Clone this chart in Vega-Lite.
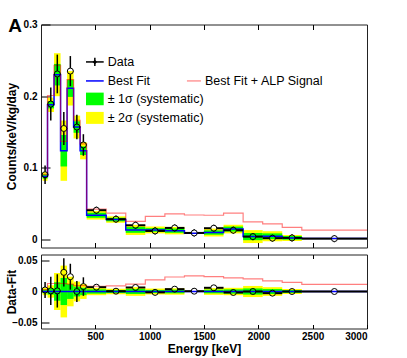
{
  "$schema": "https://vega.github.io/schema/vega-lite/v6.json",
  "padding": {"left": 4, "top": 15.5, "right": 5, "bottom": 5},
  "spacing": 5,
  "config": {
    "font": "Liberation Sans",
    "view": {"stroke": "#222", "strokeWidth": 1},
    "axis": {
      "labelFont": "Liberation Sans", "labelFontWeight": "bold", "labelFontSize": 10, "labelColor": "#000",
      "titleFont": "Liberation Sans", "titleFontWeight": "bold", "titleFontSize": 12, "titleColor": "#000",
      "tickColor": "#000", "grid": false, "domain": false
    }
  },
  "datasets": {
    "bins": [
      {"lo": 15, "hi": 60, "c": 37.5, "d": 0.0905, "dlo": 0.0775, "dhi": 0.1035, "f": 0.088, "y1lo": 0.085, "y1hi": 0.091, "y2lo": 0.082, "y2hi": 0.094, "r": 0.0025, "rlo": -0.0105, "rhi": 0.0155, "s1": 0.003, "m1": -0.003, "s2": 0.006, "m2": -0.006},
      {"lo": 60, "hi": 120, "c": 90, "d": 0.189, "dlo": 0.166, "dhi": 0.212, "f": 0.188, "y1lo": 0.183, "y1hi": 0.193, "y2lo": 0.178, "y2hi": 0.198, "r": 0.001, "rlo": -0.022, "rhi": 0.024, "s1": 0.005, "m1": -0.005, "s2": 0.01, "m2": -0.01},
      {"lo": 120, "hi": 180, "c": 150, "d": 0.231, "dlo": 0.204, "dhi": 0.258, "f": 0.23, "y1lo": 0.215, "y1hi": 0.245, "y2lo": 0.2, "y2hi": 0.26, "r": 0.001, "rlo": -0.026, "rhi": 0.028, "s1": 0.015, "m1": -0.015, "s2": 0.03, "m2": -0.03},
      {"lo": 180, "hi": 240, "c": 210, "d": 0.155, "dlo": 0.132, "dhi": 0.178, "f": 0.124, "y1lo": 0.102, "y1hi": 0.146, "y2lo": 0.082, "y2hi": 0.166, "r": 0.031, "rlo": 0.008, "rhi": 0.054, "s1": 0.022, "m1": -0.022, "s2": 0.042, "m2": -0.042},
      {"lo": 240, "hi": 300, "c": 270, "d": 0.235, "dlo": 0.214, "dhi": 0.256, "f": 0.211, "y1lo": 0.199, "y1hi": 0.223, "y2lo": 0.187, "y2hi": 0.235, "r": 0.024, "rlo": 0.003, "rhi": 0.045, "s1": 0.012, "m1": -0.012, "s2": 0.024, "m2": -0.024},
      {"lo": 300, "hi": 360, "c": 330, "d": 0.157, "dlo": 0.14, "dhi": 0.174, "f": 0.157, "y1lo": 0.149, "y1hi": 0.165, "y2lo": 0.141, "y2hi": 0.173, "r": 0.0, "rlo": -0.017, "rhi": 0.017, "s1": 0.008, "m1": -0.008, "s2": 0.016, "m2": -0.016},
      {"lo": 360, "hi": 420, "c": 390, "d": 0.132, "dlo": 0.117, "dhi": 0.147, "f": 0.124, "y1lo": 0.118, "y1hi": 0.13, "y2lo": 0.112, "y2hi": 0.136, "r": 0.008, "rlo": -0.007, "rhi": 0.023, "s1": 0.006, "m1": -0.006, "s2": 0.012, "m2": -0.012},
      {"lo": 420, "hi": 600, "c": 510, "d": 0.041, "dlo": 0.036, "dhi": 0.046, "f": 0.034, "y1lo": 0.0305, "y1hi": 0.0375, "y2lo": 0.028, "y2hi": 0.04, "r": 0.007, "rlo": 0.002, "rhi": 0.012, "s1": 0.0035, "m1": -0.0035, "s2": 0.006, "m2": -0.006},
      {"lo": 600, "hi": 780, "c": 690, "d": 0.0285, "dlo": 0.0235, "dhi": 0.0335, "f": 0.028, "y1lo": 0.0255, "y1hi": 0.0305, "y2lo": 0.0235, "y2hi": 0.0325, "r": 0.0005, "rlo": -0.0045, "rhi": 0.0055, "s1": 0.0025, "m1": -0.0025, "s2": 0.0045, "m2": -0.0045},
      {"lo": 780, "hi": 960, "c": 870, "d": 0.02, "dlo": 0.015, "dhi": 0.025, "f": 0.0135, "y1lo": 0.0095, "y1hi": 0.0175, "y2lo": 0.0065, "y2hi": 0.0205, "r": 0.0065, "rlo": 0.0015, "rhi": 0.0115, "s1": 0.004, "m1": -0.004, "s2": 0.007, "m2": -0.007},
      {"lo": 960, "hi": 1140, "c": 1050, "d": 0.0121, "dlo": 0.0071, "dhi": 0.0171, "f": 0.0135, "y1lo": 0.011, "y1hi": 0.016, "y2lo": 0.0087, "y2hi": 0.0183, "r": -0.0014, "rlo": -0.0064, "rhi": 0.0036, "s1": 0.0025, "m1": -0.0025, "s2": 0.0048, "m2": -0.0048},
      {"lo": 1140, "hi": 1320, "c": 1230, "d": 0.0163, "dlo": 0.0113, "dhi": 0.0213, "f": 0.0125, "y1lo": 0.0095, "y1hi": 0.0155, "y2lo": 0.0073, "y2hi": 0.0177, "r": 0.0038, "rlo": -0.0012, "rhi": 0.0088, "s1": 0.003, "m1": -0.003, "s2": 0.0052, "m2": -0.0052},
      {"lo": 1320, "hi": 1500, "c": 1410, "d": 0.0093, "dlo": 0.0043, "dhi": 0.0143, "f": 0.0088, "y1lo": 0.0084, "y1hi": 0.0092, "y2lo": 0.008, "y2hi": 0.0096, "r": 0.0005, "rlo": -0.0045, "rhi": 0.0055, "s1": 0.0004, "m1": -0.0004, "s2": 0.0008, "m2": -0.0008},
      {"lo": 1500, "hi": 1680, "c": 1590, "d": 0.0159, "dlo": 0.0109, "dhi": 0.0209, "f": 0.0099, "y1lo": 0.0069, "y1hi": 0.0129, "y2lo": 0.0044, "y2hi": 0.0154, "r": 0.006, "rlo": 0.001, "rhi": 0.011, "s1": 0.003, "m1": -0.003, "s2": 0.0055, "m2": -0.0055},
      {"lo": 1680, "hi": 1860, "c": 1770, "d": 0.0131, "dlo": 0.0081, "dhi": 0.0181, "f": 0.0147, "y1lo": 0.0112, "y1hi": 0.0182, "y2lo": 0.0087, "y2hi": 0.0207, "r": -0.0016, "rlo": -0.0066, "rhi": 0.0034, "s1": 0.0035, "m1": -0.0035, "s2": 0.006, "m2": -0.006},
      {"lo": 1860, "hi": 2040, "c": 1950, "d": 0.0042, "dlo": -0.0008, "dhi": 0.0092, "f": 0.0042, "y1lo": -0.0008, "y1hi": 0.0092, "y2lo": -0.0048, "y2hi": 0.0132, "r": 0.0, "rlo": -0.005, "rhi": 0.005, "s1": 0.005, "m1": -0.005, "s2": 0.009, "m2": -0.009},
      {"lo": 2040, "hi": 2220, "c": 2130, "d": 0.002, "dlo": -0.003, "dhi": 0.007, "f": 0.0047, "y1lo": 0.0007, "y1hi": 0.0087, "y2lo": -0.0023, "y2hi": 0.0117, "r": -0.0027, "rlo": -0.0077, "rhi": 0.0023, "s1": 0.004, "m1": -0.004, "s2": 0.007, "m2": -0.007},
      {"lo": 2220, "hi": 2400, "c": 2310, "d": 0.0024, "dlo": -0.0026, "dhi": 0.0074, "f": 0.0024, "y1lo": -0.0001, "y1hi": 0.0049, "y2lo": -0.0018, "y2hi": 0.0066, "r": 0.0, "rlo": -0.005, "rhi": 0.005, "s1": 0.0025, "m1": -0.0025, "s2": 0.0042, "m2": -0.0042},
      {"lo": 2400, "hi": 3000, "c": 2700, "d": 0.0014, "dlo": -0.0036, "dhi": 0.0064, "f": 0.0014, "y1lo": 0.0009, "y1hi": 0.0019, "y2lo": 0.0005, "y2hi": 0.0023, "r": 0.0, "rlo": -0.005, "rhi": 0.005, "s1": 0.0005, "m1": -0.0005, "s2": 0.0009, "m2": -0.0009}
    ],
    "edges": [
      {"x": 15, "f": 0.088, "fa": 0.091, "a": 0.003},
      {"x": 60, "f": 0.188, "fa": 0.201, "a": 0.013},
      {"x": 120, "f": 0.23, "fa": 0.243, "a": 0.013},
      {"x": 180, "f": 0.124, "fa": 0.137, "a": 0.013},
      {"x": 240, "f": 0.211, "fa": 0.223, "a": 0.012},
      {"x": 300, "f": 0.157, "fa": 0.1665, "a": 0.0095},
      {"x": 360, "f": 0.124, "fa": 0.1335, "a": 0.0095},
      {"x": 420, "f": 0.034, "fa": 0.0425, "a": 0.0085},
      {"x": 600, "f": 0.028, "fa": 0.037, "a": 0.009},
      {"x": 780, "f": 0.0135, "fa": 0.0255, "a": 0.012},
      {"x": 960, "f": 0.0135, "fa": 0.0325, "a": 0.019},
      {"x": 1140, "f": 0.0125, "fa": 0.036, "a": 0.0235},
      {"x": 1320, "f": 0.0088, "fa": 0.0343, "a": 0.0255},
      {"x": 1500, "f": 0.0099, "fa": 0.034, "a": 0.024},
      {"x": 1680, "f": 0.0147, "fa": 0.0369, "a": 0.0222},
      {"x": 1860, "f": 0.0042, "fa": 0.0247, "a": 0.0205},
      {"x": 2040, "f": 0.0047, "fa": 0.0219, "a": 0.0172},
      {"x": 2220, "f": 0.0024, "fa": 0.0172, "a": 0.0148},
      {"x": 2400, "f": 0.0014, "fa": 0.0131, "a": 0.0117},
      {"x": 3000, "f": 0.0014, "fa": 0.0131, "a": 0.0117}
    ]
  },
  "vconcat": [
    {
      "width": 326,
      "height": 223,
      "resolve": {"axis": {"x": "independent", "y": "independent"}},
      "layer": [
        {
          "data": {"name": "bins"},
          "mark": {"type": "rect", "color": "#ffff00"},
          "encoding": {
            "x": {"field": "lo", "type": "quantitative", "scale": {"domain": [0, 3000], "nice": false, "zero": false},
                  "axis": {"orient": "bottom", "values": [500, 1000, 1500, 2000, 2500], "labels": false, "tickSize": -5, "title": null}},
            "x2": {"field": "hi"},
            "y": {"field": "y2lo", "type": "quantitative", "scale": {"domain": [-0.011, 0.3], "nice": false, "zero": false},
                  "axis": {"orient": "left", "values": [0, 0.1, 0.2, 0.3], "format": "~g", "tickSize": -9, "labelPadding": 13, "title": "Counts/keV/kg/day", "titleX": -30, "titleBaseline": "middle", "titleAlign": "center"}},
            "y2": {"field": "y2hi"}
          }
        },
        {
          "data": {"name": "bins"},
          "mark": {"type": "rect", "color": "#00ff00"},
          "encoding": {
            "x": {"field": "lo", "type": "quantitative", "axis": {"orient": "top", "values": [500, 1000, 1500, 2000, 2500], "labels": false, "tickSize": -5, "title": null}},
            "x2": {"field": "hi"},
            "y": {"field": "y1lo", "type": "quantitative", "axis": null},
            "y2": {"field": "y1hi"}
          }
        },
        {
          "data": {"name": "edges"},
          "mark": {"type": "line", "interpolate": "step-after", "color": "#0000ff", "strokeWidth": 1.5},
          "encoding": {
            "x": {"field": "x", "type": "quantitative", "axis": null},
            "y": {"field": "f", "type": "quantitative", "axis": null}
          }
        },
        {
          "data": {"name": "edges"},
          "mark": {"type": "line", "interpolate": "step-after", "color": "#ff0000", "opacity": 0.5, "strokeWidth": 1.2},
          "encoding": {
            "x": {"field": "x", "type": "quantitative", "axis": null},
            "y": {"field": "fa", "type": "quantitative", "axis": null}
          }
        },
        {
          "data": {"name": "bins"},
          "mark": {"type": "rule", "color": "#000", "strokeWidth": 2, "x2Offset": -3},
          "encoding": {
            "x": {"field": "lo", "type": "quantitative", "axis": null},
            "x2": {"field": "c"},
            "y": {"field": "d", "type": "quantitative", "axis": null}
          }
        },
        {
          "data": {"name": "bins"},
          "mark": {"type": "rule", "color": "#000", "strokeWidth": 2, "xOffset": 3},
          "encoding": {
            "x": {"field": "c", "type": "quantitative", "axis": null},
            "x2": {"field": "hi"},
            "y": {"field": "d", "type": "quantitative", "axis": null}
          }
        },
        {
          "data": {"name": "bins"},
          "mark": {"type": "rule", "color": "#000", "strokeWidth": 1.5, "y2Offset": 3},
          "encoding": {
            "x": {"field": "c", "type": "quantitative", "axis": null},
            "y": {"field": "dlo", "type": "quantitative", "axis": null},
            "y2": {"field": "d"}
          }
        },
        {
          "data": {"name": "bins"},
          "mark": {"type": "rule", "color": "#000", "strokeWidth": 1.5, "yOffset": -3},
          "encoding": {
            "x": {"field": "c", "type": "quantitative", "axis": null},
            "y": {"field": "d", "type": "quantitative", "axis": null},
            "y2": {"field": "dhi"}
          }
        },
        {
          "data": {"name": "bins"},
          "mark": {"type": "point", "shape": "circle", "filled": false, "stroke": "#000", "strokeWidth": 1, "size": 36, "opacity": 1},
          "encoding": {
            "x": {"field": "c", "type": "quantitative", "axis": null},
            "y": {"field": "d", "type": "quantitative", "axis": null}
          }
        },
        {
          "data": {"values": [{"x": 414, "x2": 577, "y": 0.2478}]},
          "mark": {"type": "rule", "color": "#000", "strokeWidth": 1.5},
          "encoding": {
            "x": {"field": "x", "type": "quantitative", "axis": null},
            "x2": {"field": "x2"},
            "y": {"field": "y", "type": "quantitative", "axis": null}
          }
        },
        {
          "data": {"values": [{"x": 495.5, "y": 0.2421, "y2": 0.2535}]},
          "mark": {"type": "rule", "color": "#000", "strokeWidth": 1.5},
          "encoding": {
            "x": {"field": "x", "type": "quantitative", "axis": null},
            "y": {"field": "y", "type": "quantitative", "axis": null},
            "y2": {"field": "y2"}
          }
        },
        {
          "data": {"values": [{"x": 495.5, "y": 0.2478}]},
          "mark": {"type": "point", "shape": "diamond", "filled": true, "color": "#000", "size": 20, "opacity": 1},
          "encoding": {
            "x": {"field": "x", "type": "quantitative", "axis": null},
            "y": {"field": "y", "type": "quantitative", "axis": null}
          }
        },
        {
          "data": {"values": [{"x": 414, "x2": 577, "y": 0.2213}]},
          "mark": {"type": "rule", "color": "#0000ff", "strokeWidth": 1.5},
          "encoding": {
            "x": {"field": "x", "type": "quantitative", "axis": null},
            "x2": {"field": "x2"},
            "y": {"field": "y", "type": "quantitative", "axis": null}
          }
        },
        {
          "data": {"values": [{"x": 1343, "x2": 1472, "y": 0.2213}]},
          "mark": {"type": "rule", "color": "#ff0000", "opacity": 0.5, "strokeWidth": 1.2},
          "encoding": {
            "x": {"field": "x", "type": "quantitative", "axis": null},
            "x2": {"field": "x2"},
            "y": {"field": "y", "type": "quantitative", "axis": null}
          }
        },
        {
          "data": {"values": [{"x": 414, "x2": 577, "y": 0.1874, "y2": 0.205}]},
          "mark": {"type": "rect", "color": "#00ff00"},
          "encoding": {
            "x": {"field": "x", "type": "quantitative", "axis": null},
            "x2": {"field": "x2"},
            "y": {"field": "y", "type": "quantitative", "axis": null},
            "y2": {"field": "y2"}
          }
        },
        {
          "data": {"values": [{"x": 414, "x2": 577, "y": 0.1614, "y2": 0.1781}]},
          "mark": {"type": "rect", "color": "#ffff00"},
          "encoding": {
            "x": {"field": "x", "type": "quantitative", "axis": null},
            "x2": {"field": "x2"},
            "y": {"field": "y", "type": "quantitative", "axis": null},
            "y2": {"field": "y2"}
          }
        },
        {
          "data": {"values": [
            {"x": 614, "y": 0.2478, "t": "Data"},
            {"x": 614, "y": 0.2213, "t": "Best Fit"},
            {"x": 1509, "y": 0.2213, "t": "Best Fit + ALP Signal"},
            {"x": 614, "y": 0.1962, "t": "± 1σ (systematic)"},
            {"x": 614, "y": 0.1697, "t": "± 2σ (systematic)"}
          ]},
          "mark": {"type": "text", "align": "left", "baseline": "middle", "fontSize": 12.5, "font": "Liberation Sans", "color": "#000"},
          "encoding": {
            "x": {"field": "x", "type": "quantitative", "axis": null},
            "y": {"field": "y", "type": "quantitative", "axis": null},
            "text": {"field": "t"}
          }
        },
        {
          "data": {"values": [{"x": -301, "y": 0.2897, "t": "A"}]},
          "mark": {"type": "text", "align": "left", "baseline": "alphabetic", "fontSize": 19, "fontWeight": "bold", "font": "Liberation Sans", "color": "#000"},
          "encoding": {
            "x": {"field": "x", "type": "quantitative", "axis": null},
            "y": {"field": "y", "type": "quantitative", "axis": null},
            "text": {"field": "t"}
          }
        }
      ]
    },
    {
      "width": 326,
      "height": 74,
      "resolve": {"axis": {"x": "independent", "y": "independent"}},
      "layer": [
        {
          "data": {"name": "bins"},
          "mark": {"type": "rect", "color": "#ffff00"},
          "encoding": {
            "x": {"field": "lo", "type": "quantitative", "scale": {"domain": [0, 3000], "nice": false, "zero": false},
                  "axis": {"orient": "bottom", "values": [500, 1000, 1500, 2000, 2500, 3000], "format": "d", "tickSize": -4, "labelPadding": 7, "title": "Energy [keV]", "titlePadding": 2}},
            "x2": {"field": "hi"},
            "y": {"field": "m2", "type": "quantitative", "scale": {"domain": [-0.06, 0.06], "nice": false, "zero": false},
                  "axis": {"orient": "left", "values": [-0.05, 0, 0.05], "format": "~g", "tickSize": -8, "labelPadding": 12, "title": "Data-Fit", "titleX": -30, "titleBaseline": "middle", "titleAlign": "center"}},
            "y2": {"field": "s2"}
          }
        },
        {
          "data": {"name": "bins"},
          "mark": {"type": "rect", "color": "#00ff00"},
          "encoding": {
            "x": {"field": "lo", "type": "quantitative", "axis": {"orient": "top", "values": [500, 1000, 1500, 2000, 2500], "labels": false, "tickSize": -4, "title": null}},
            "x2": {"field": "hi"},
            "y": {"field": "m1", "type": "quantitative", "axis": null},
            "y2": {"field": "s1"}
          }
        },
        {
          "data": {"values": [{}]},
          "mark": {"type": "rule", "color": "#0000ff", "strokeWidth": 1.5},
          "encoding": {
            "x": {"datum": 15, "type": "quantitative", "axis": null},
            "x2": {"datum": 3000},
            "y": {"datum": 0, "type": "quantitative", "axis": null}
          }
        },
        {
          "data": {"name": "edges"},
          "mark": {"type": "line", "interpolate": "step-after", "color": "#ff0000", "opacity": 0.5, "strokeWidth": 1.2},
          "encoding": {
            "x": {"field": "x", "type": "quantitative", "axis": null},
            "y": {"field": "a", "type": "quantitative", "axis": null}
          }
        },
        {
          "data": {"name": "bins"},
          "mark": {"type": "rule", "color": "#000", "strokeWidth": 2, "x2Offset": -3},
          "encoding": {
            "x": {"field": "lo", "type": "quantitative", "axis": null},
            "x2": {"field": "c"},
            "y": {"field": "r", "type": "quantitative", "axis": null}
          }
        },
        {
          "data": {"name": "bins"},
          "mark": {"type": "rule", "color": "#000", "strokeWidth": 2, "xOffset": 3},
          "encoding": {
            "x": {"field": "c", "type": "quantitative", "axis": null},
            "x2": {"field": "hi"},
            "y": {"field": "r", "type": "quantitative", "axis": null}
          }
        },
        {
          "data": {"name": "bins"},
          "mark": {"type": "rule", "color": "#000", "strokeWidth": 1.5, "y2Offset": 3},
          "encoding": {
            "x": {"field": "c", "type": "quantitative", "axis": null},
            "y": {"field": "rlo", "type": "quantitative", "axis": null},
            "y2": {"field": "r"}
          }
        },
        {
          "data": {"name": "bins"},
          "mark": {"type": "rule", "color": "#000", "strokeWidth": 1.5, "yOffset": -3},
          "encoding": {
            "x": {"field": "c", "type": "quantitative", "axis": null},
            "y": {"field": "r", "type": "quantitative", "axis": null},
            "y2": {"field": "rhi"}
          }
        },
        {
          "data": {"name": "bins"},
          "mark": {"type": "point", "shape": "circle", "filled": false, "stroke": "#000", "strokeWidth": 1, "size": 36, "opacity": 1},
          "encoding": {
            "x": {"field": "c", "type": "quantitative", "axis": null},
            "y": {"field": "r", "type": "quantitative", "axis": null}
          }
        }
      ]
    }
  ]
}
